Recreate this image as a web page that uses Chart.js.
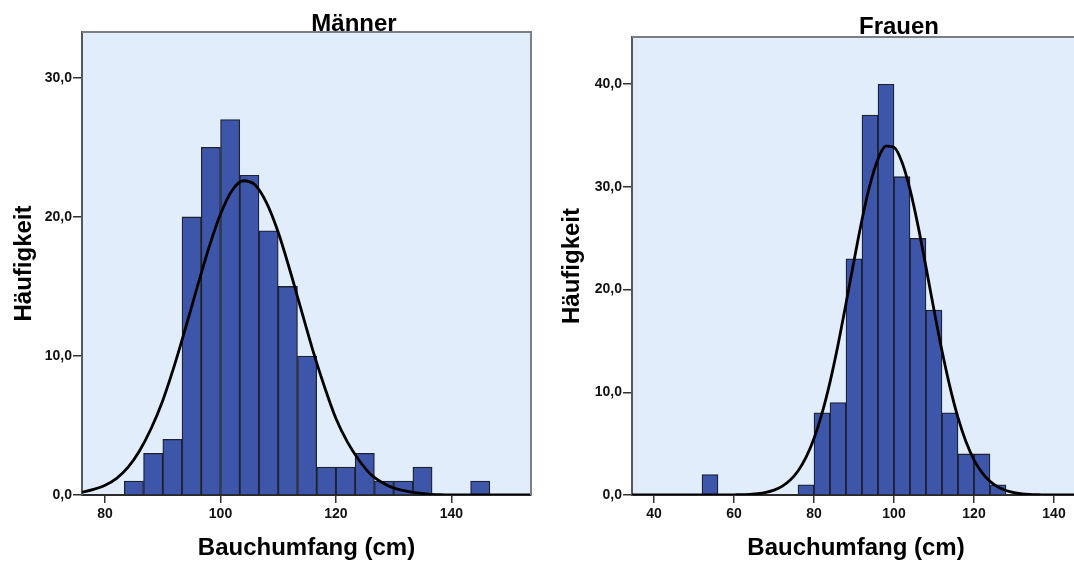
<!DOCTYPE html>
<html><head><meta charset="utf-8">
<script src="https://cdn.jsdelivr.net/npm/chart.js@4/dist/chart.umd.min.js"></script>
<style>
html,body{margin:0;padding:0;background:#fff;overflow:hidden;width:1074px;height:563px;}
.box{position:absolute;top:0;width:545px;height:563px;}
#b1{left:0}
#b2{left:545px}
</style></head><body>
<div class="box" id="b1"><canvas id="c1" width="545" height="563"></canvas></div>
<div class="box" id="b2"><canvas id="c2" width="545" height="563"></canvas></div>
<script>
// ---------- data: Männer ----------
const menTitle = 'Männer';
const menBinCenters = [85, 88.33, 91.67, 95, 98.33, 101.67, 105, 108.33, 111.67, 115, 118.33, 121.67, 125, 128.33, 131.67, 135, 138.33, 141.67, 145];
const menCounts     = [1, 3, 4, 20, 25, 27, 23, 19, 15, 10, 2, 2, 3, 1, 1, 2, 0, 0, 1];
const menCurveX = [76, 78, 80, 82, 84, 86, 88, 90, 92, 94, 96, 98, 100, 102, 104, 106, 108, 110, 112, 114, 116, 118, 120, 122, 124, 126, 128, 130, 132, 134, 136, 138, 140, 144, 148, 156];
const menCurveY = [0.2, 0.4, 0.7, 1.2, 2.0, 3.2, 4.8, 6.8, 9.3, 12.1, 15.0, 17.8, 20.2, 21.9, 22.6, 22.3, 21.0, 18.9, 16.2, 13.3, 10.4, 7.8, 5.5, 3.8, 2.5, 1.5, 0.9, 0.5, 0.3, 0.15, 0.07, 0.03, 0.01, 0, 0, 0];
const menTicksX = [80, 100, 120, 140];
const menTicksY = [0, 10, 20, 30];

// ---------- data: Frauen ----------
const womenTitle = 'Frauen';
const womenBinCenters = [54, 78, 82, 86, 90, 94, 98, 102, 106, 110, 114, 118, 122, 126];
const womenCounts     = [2, 1, 8, 9, 23, 37, 40, 31, 25, 18, 8, 4, 4, 1];
const womenCurveX = [34, 40, 50, 56, 60, 62, 64, 66, 68, 70, 72, 74, 76, 78, 80, 82, 84, 86, 88, 90, 92, 94, 96, 98, 100, 102, 104, 106, 108, 110, 112, 114, 116, 118, 120, 122, 124, 126, 128, 130, 132, 134, 136, 138, 140, 148];
const womenCurveY = [0, 0, 0, 0, 0.02, 0.03, 0.07, 0.13, 0.26, 0.48, 0.84, 1.43, 2.34, 3.66, 5.5, 7.94, 10.99, 14.61, 18.64, 22.81, 26.8, 30.22, 32.71, 33.97, 33.87, 32.41, 29.76, 26.23, 22.19, 18.01, 14.04, 10.5, 7.53, 5.19, 3.43, 2.18, 1.33, 0.78, 0.44, 0.23, 0.12, 0.06, 0.03, 0.01, 0.005, 0];
const womenTicksX = [40, 60, 80, 100, 120, 140];
const womenTicksY = [0, 10, 20, 30, 40];

const axisTitleX = 'Bauchumfang (cm)';
const axisTitleY = 'Häufigkeit';

// ---------- styling ----------
const FONT = '"Liberation Sans", Arial, Helvetica, sans-serif';
const PLOT_BG = '#E1EDFA';
const BAR_FILL = '#3E56AA';
const BAR_EDGE = '#1E2230';

const plotDeco = {
  id: 'plotDeco',
  beforeDraw(chart, args, opts) {
    const {ctx, chartArea: a} = chart;
    ctx.save();
    ctx.fillStyle = PLOT_BG;
    ctx.fillRect(a.left, a.top, a.right - a.left, a.bottom - a.top);
    ctx.restore();
  },
  afterDraw(chart, args, opts) {
    const {ctx, chartArea: a} = chart;
    ctx.save();
    ctx.strokeStyle = '#7A7F86';
    ctx.lineWidth = 2;
    ctx.beginPath();
    ctx.moveTo(a.left, a.top);
    ctx.lineTo(a.right, a.top);
    ctx.lineTo(a.right, a.bottom);
    ctx.stroke();
    ctx.fillStyle = '#000';
    ctx.font = 'bold 24px ' + FONT;
    ctx.textAlign = 'center';
    ctx.textBaseline = 'alphabetic';
    ctx.fillText(opts.text, opts.x, opts.y);
    ctx.restore();
  }
};

function makeChart(id, cfg) {
  const fmt = v => Number(v).toFixed(1).replace('.', ',');
  return new Chart(document.getElementById(id), {
    type: 'bar',
    data: {
      datasets: [
        {
          type: 'line',
          data: cfg.curveX.map((x, i) => ({x: x, y: cfg.curveY[i]})),
          borderColor: '#000',
          borderWidth: 2.8,
          pointRadius: 0,
          cubicInterpolationMode: 'monotone',
          fill: false,
          order: 0
        },
        {
          type: 'bar',
          data: cfg.centers.map((x, i) => ({x: x, y: cfg.counts[i]})),
          backgroundColor: BAR_FILL,
          borderColor: BAR_EDGE,
          borderWidth: ctx => (ctx.raw && ctx.raw.y > 0) ? 1.3 : 0,
          borderSkipped: 'start',
          barPercentage: 1,
          categoryPercentage: 1,
          order: 1
        }
      ]
    },
    options: {
      responsive: false,
      animation: false,
      devicePixelRatio: 1,
      layout: {padding: cfg.padding},
      plugins: {
        legend: {display: false},
        tooltip: {enabled: false},
        title: {display: false},
        plotDeco: {text: cfg.title, x: cfg.titleX, y: cfg.titleY}
      },
      scales: {
        x: {
          type: 'linear',
          offset: false,
          min: cfg.xMin, max: cfg.xMax,
          afterBuildTicks: s => { s.ticks = cfg.ticksX.map(v => ({value: v})); },
          afterFit: s => { s.height = 68; },
          grid: {offset: false, drawOnChartArea: false, drawTicks: true, tickLength: 8, color: '#333', lineWidth: 1.5},
          border: {display: true, color: '#2a2a2a', width: 2},
          ticks: {color: '#111', font: {family: FONT, size: 14, weight: 'bold'}, padding: 3, maxRotation: 0,
                  callback: v => String(v)},
          title: {display: true, text: axisTitleX, color: '#000',
                  font: {family: FONT, size: 24, weight: 'bold'}, padding: {top: 0, bottom: 0}}
        },
        y: {
          type: 'linear',
          min: 0, max: cfg.yMax,
          afterBuildTicks: s => { s.ticks = cfg.ticksY.map(v => ({value: v})); },
          afterFit: s => { s.width = cfg.yWidth; },
          grid: {offset: false, drawOnChartArea: false, drawTicks: true, tickLength: 9, color: '#333', lineWidth: 1.5},
          border: {display: true, color: '#55585c', width: 2},
          ticks: {color: '#111', font: {family: FONT, size: 14, weight: 'bold'}, padding: 1,
                  callback: v => fmt(v)},
          title: {display: true, text: axisTitleY, color: '#000',
                  font: {family: FONT, size: 24, weight: 'bold'}, padding: {top: cfg.yTitlePad, bottom: 0}}
        }
      }
    },
    plugins: [plotDeco]
  });
}

makeChart('c1', {
  title: menTitle, titleX: 354, titleY: 31,
  centers: menBinCenters, counts: menCounts,
  curveX: menCurveX, curveY: menCurveY,
  ticksX: menTicksX, ticksY: menTicksY,
  xMin: 76, xMax: 153.8, yMax: 33.3,
  padding: {left: 0, top: 32, right: 14, bottom: 0},
  yWidth: 82, yTitlePad: 10
});

makeChart('c2', {
  title: womenTitle, titleX: 354, titleY: 34,
  centers: womenBinCenters, counts: womenCounts,
  curveX: womenCurveX, curveY: womenCurveY,
  ticksX: womenTicksX, ticksY: womenTicksY,
  xMin: 34.5, xMax: 146.5, yMax: 44.6,
  padding: {left: 0, top: 37, right: 10, bottom: 0},
  yWidth: 87, yTitlePad: 13
});
</script>
</body></html>
